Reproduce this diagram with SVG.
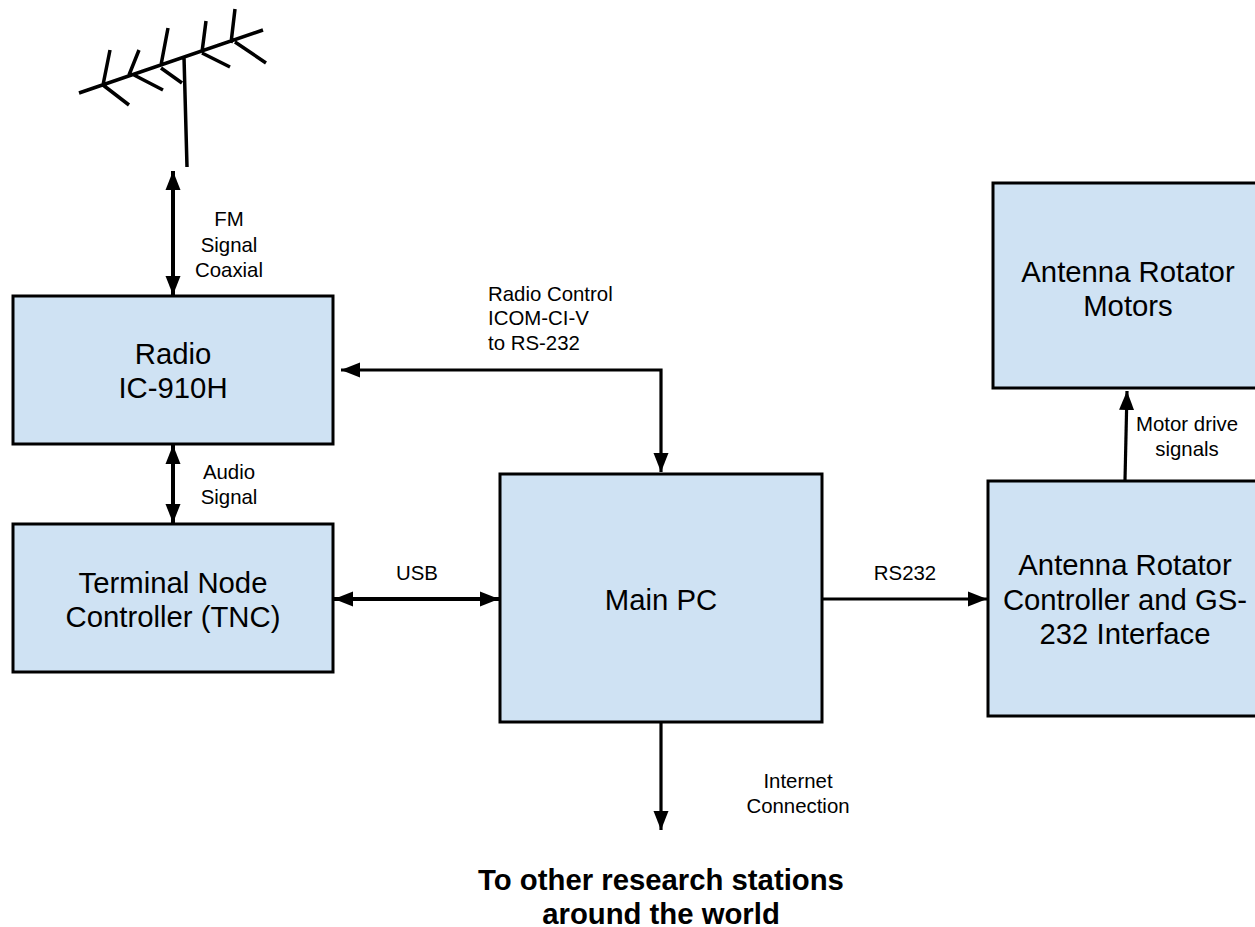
<svg xmlns="http://www.w3.org/2000/svg" width="1255" height="927" viewBox="0 0 1255 927">
<style>
text{font-family:"Liberation Sans",Arial,sans-serif;text-anchor:middle;fill:#000}
.b{fill:#cfe2f3;stroke:#000;stroke-width:3}
.n{font-size:29.3px}
.h{font-size:29.3px;font-weight:bold}
.l{font-size:20.4px}
.s{text-anchor:start}
.c{fill:none;stroke:#000;stroke-width:4}
.t{stroke-width:3.2}
.a{fill:none;stroke:#000;stroke-width:3.5}
</style>
<defs>
<marker id="e" markerUnits="userSpaceOnUse" markerWidth="20" markerHeight="16" refX="19" refY="7.5" orient="auto-start-reverse" viewBox="0 0 20 15"><path d="M0 0L19 7.5L0 15Z" fill="#000"/></marker>
</defs>
<rect width="1255" height="927" fill="#fff"/>
<g id="antenna">
<path class="a" d="M79 93L263 30M103 85L110 50M103 85L129 105M129 75L139 50M134 75L163 90M161 65L168 28M161 68L182 83M184 57L187 167M202 52L206 21M202 53L230 67M231 43L235 9M235 42L266 63"/>
</g>
<g id="radio"><rect class="b" x="13" y="296" width="320" height="148"/><text class="n" x="173" y="364">Radio</text><text class="n" x="173" y="398">IC-910H</text></g>
<g id="tnc"><rect class="b" x="13" y="524" width="320" height="148"/><text class="n" x="173" y="593">Terminal Node</text><text class="n" x="173" y="627">Controller (TNC)</text></g>
<g id="pc"><rect class="b" x="500" y="474" width="322" height="248"/><text class="n" x="661" y="610">Main PC</text></g>
<g id="motors"><rect class="b" x="993" y="183" width="264" height="205"/><text class="n" x="1128" y="282">Antenna Rotator</text><text class="n" x="1128" y="316">Motors</text></g>
<g id="controller"><rect class="b" x="988" y="481" width="269" height="235"/><text class="n" x="1125" y="575">Antenna Rotator</text><text class="n" x="1125" y="609.5">Controller and GS-</text><text class="n" x="1125" y="644">232 Interface</text></g>
<g id="connectors">
<path class="c" d="M173 171V295" marker-start="url(#e)" marker-end="url(#e)"/>
<path class="c" d="M173 445V523" marker-start="url(#e)" marker-end="url(#e)"/>
<path class="c" d="M334 599H499" marker-start="url(#e)" marker-end="url(#e)"/>
<path class="c t" d="M341 370H661V472" marker-start="url(#e)" marker-end="url(#e)"/>
<path class="c t" d="M823 599H987" marker-end="url(#e)"/>
<path class="c t" d="M661 723V830" marker-end="url(#e)"/>
<path class="c t" d="M1125 480L1127 391" marker-end="url(#e)"/>
</g>
<g id="labels">
<text class="l" x="229" y="226">FM</text><text class="l" x="229" y="251.5">Signal</text><text class="l" x="229" y="276.5">Coaxial</text>
<text class="l" x="229" y="479">Audio</text><text class="l" x="229" y="504">Signal</text>
<text class="l s" x="488" y="300.5">Radio Control</text><text class="l s" x="488" y="325">ICOM-CI-V</text><text class="l s" x="488" y="350">to RS-232</text>
<text class="l" x="417" y="580">USB</text>
<text class="l" x="905" y="580">RS232</text>
<text class="l" x="1187" y="431">Motor drive</text><text class="l" x="1187" y="456">signals</text>
<text class="l" x="798" y="787.5">Internet</text><text class="l" x="798" y="812.5">Connection</text>
<text class="h" x="661" y="889.5">To other research stations</text><text class="h" x="661" y="923.5">around the world</text>
</g>
</svg>
